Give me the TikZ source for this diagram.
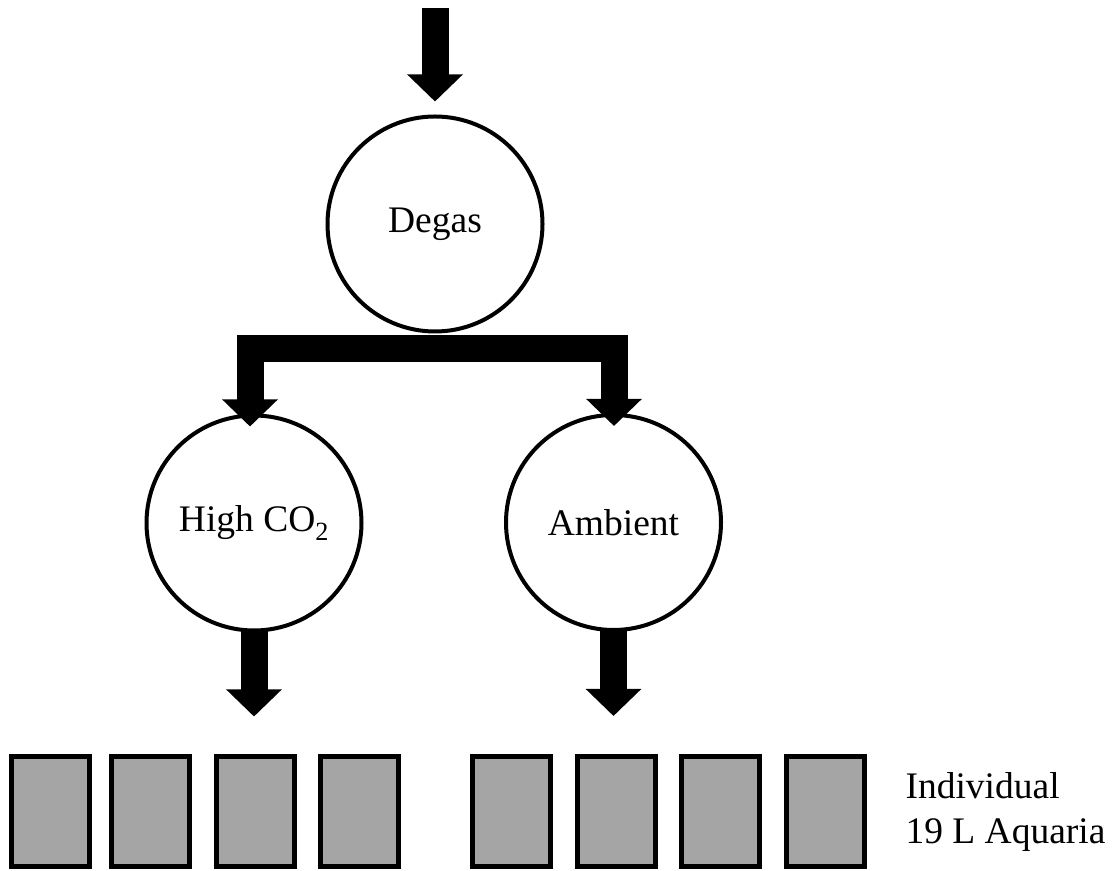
\documentclass[tikz,border=0pt]{standalone}
\usepackage{fontspec}
\setmainfont{Liberation Serif}
\usetikzlibrary{arrows.meta,calc}
\definecolor{tankgray}{HTML}{A5A5A5}
\begin{document}
\begin{tikzpicture}[x=1pt,y=1pt,
  every node/.style={font=\fontsize{37.5}{45}\selectfont},
  vessel/.style={circle,draw=black,line width=4pt,minimum size=215pt,inner sep=0pt},
  tank/.style={rectangle,draw=black,fill=tankgray,line width=5pt,minimum width=78pt,minimum height=110pt,inner sep=0pt},
  blockarrow/.style={line width=27pt,line join=miter,
    arrows={-Triangle[width=54pt,length=27pt]}},
  blockarrows/.style={line width=27pt,line join=miter,
    arrows={Triangle[width=54pt,length=27pt]-Triangle[width=54pt,length=27pt]}}]
\useasboundingbox (0,0) rectangle (1116,870);

% vessels
\node[vessel] (degas) at (435,646) {Degas};
\node[vessel] (high) at (254,347) {High CO\textsubscript{2}};
\node[vessel] (amb) at (613.5,347.5) {Ambient};

% tanks
\foreach \n/\x in {1/50.5,2/150.5,3/255.5,4/359.5,5/511.5,6/616.5,7/720,8/825.5}
  \node[tank] (t\n) at (\x,58.5) {};

\node[anchor=base west,align=left] (label) at (902,27) {Individual\\19 L Aquaria};

% connectors
\coordinate (in) at (435,862);
\draw[blockarrow] (in) -- ($(degas.north)+(0,13)$);
\draw[blockarrows] ($(high.north)+(-4,-13)$) |- ($(degas.south)+(0,-15)$) -| ($(amb.north)+(0.5,-13)$);
\draw[blockarrow] ($(high.south)+(0,2)$) -- ($(high.south)+(0,-84)$);
\draw[blockarrow] ($(amb.south)+(0,2)$) -- ($(amb.south)+(0,-84)$);
\end{tikzpicture}
\end{document}
